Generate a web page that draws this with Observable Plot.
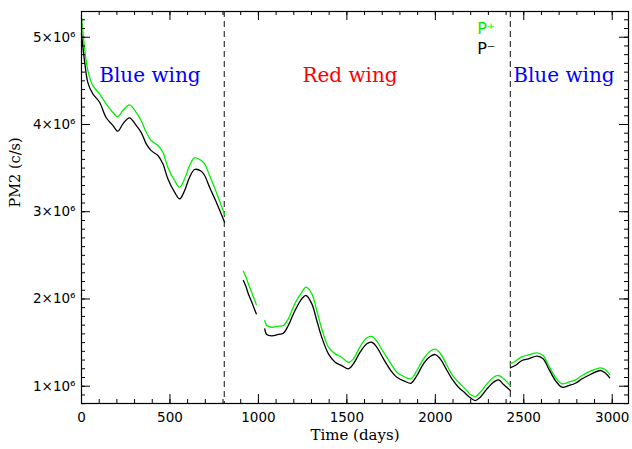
<!DOCTYPE html>
<html>
<head>
<meta charset="utf-8">
<script src="https://cdn.jsdelivr.net/npm/d3@7"></script>
<script src="https://cdn.jsdelivr.net/npm/@observablehq/plot@0.6"></script>
<style>
  html, body { margin: 0; padding: 0; background: #fff; }
</style>
</head>
<body>
<div id="chart"></div>
<script>
// Time (days) and PM2 count rates (units of 10^6 c/s), four observing segments
const days1  = [0,17,36,64,102,139,177,205,234,271,309,337,366,394,432,460,488,526,555,583,611,639,677,696,724,762,809];
const minus1 = [5.04,4.73,4.48,4.35,4.255,4.08,3.99,3.923,4.007,4.076,3.99,3.91,3.778,3.70,3.644,3.549,3.377,3.224,3.148,3.243,3.395,3.484,3.464,3.415,3.281,3.109,2.88];
const plus1  = [5.23,4.885,4.618,4.446,4.35,4.237,4.14,4.09,4.16,4.225,4.14,4.045,3.911,3.816,3.759,3.682,3.51,3.358,3.281,3.377,3.53,3.618,3.587,3.549,3.415,3.224,2.968];

const days2  = [915,930,943,965,988];
const minus2 = [2.211,2.14,2.059,1.95,1.83];
const plus2  = [2.318,2.25,2.174,2.06,1.936];

const days3  = [1036,1047,1075,1113,1141,1169,1207,1245,1269,1302,1330,1358,1396,1434,1471,1509,1537,1575,1613,1641,1669,1707,1745,1783,1830,1862,1896,1933,1971,2000,2028,2066,2094,2131,2169,2198,2226,2254,2292,2329,2358,2386,2424];
const minus3 = [1.658,1.593,1.578,1.593,1.608,1.696,1.868,2.002,2.04,1.944,1.753,1.562,1.371,1.275,1.237,1.199,1.257,1.39,1.486,1.504,1.447,1.314,1.19,1.103,1.054,1.034,1.123,1.257,1.34,1.363,1.314,1.18,1.085,0.989,0.92,0.867,0.836,0.874,0.97,1.046,1.073,1.019,0.951];
const plus3  = [1.753,1.696,1.676,1.688,1.696,1.772,1.951,2.077,2.135,2.059,1.868,1.658,1.447,1.371,1.332,1.275,1.314,1.455,1.555,1.57,1.516,1.39,1.27,1.16,1.103,1.085,1.18,1.314,1.401,1.424,1.378,1.237,1.134,1.046,0.97,0.905,0.882,0.931,1.027,1.103,1.123,1.085,1.008];

const days4  = [2424,2452,2490,2527,2575,2609,2641,2679,2716,2754,2792,2830,2877,2933,2962,2986];
const minus4 = [1.211,1.237,1.295,1.314,1.344,1.314,1.199,1.065,0.989,1.008,1.034,1.085,1.134,1.18,1.149,1.096];
const plus4  = [1.257,1.287,1.34,1.36,1.383,1.352,1.237,1.103,1.027,1.046,1.073,1.123,1.172,1.211,1.188,1.134];

const boundaries = [807, 2424];
const xTicks = [0, 500, 1000, 1500, 2000, 2500, 3000];
const yTicks = [1, 2, 3, 4, 5];
const wingLabels = [
  {label: "Blue wing", day: 387, value: 4.56, color: "#0000ff"},
  {label: "Red wing",  day: 1518, value: 4.56, color: "#ff0000"},
  {label: "Blue wing", day: 2727, value: 4.56, color: "#0000ff"}
];
const legendItems = [
  {label: "P\u207A", day: 2339, value: 5.10, color: "#00ee00"},
  {label: "P\u207B", day: 2339, value: 4.87, color: "#000000"}
];

const segs = [[days1, minus1, plus1], [days2, minus2, plus2], [days3, minus3, plus3], [days4, minus4, plus4]];
const rowsMinus = [], rowsPlus = [];
segs.forEach(([d, m, p], s) => {
  d.forEach((t, i) => {
    rowsMinus.push({t, v: m[i], s});
    rowsPlus.push({t, v: p[i], s});
  });
});

const W = 632, H = 449, ML = 81, MR = 4, MT = 11, MB = 46;
const innerW = W - ML - MR, innerH = H - MT - MB;
const xMinor = d3.range(0, 3100, 100);
const yMinor = d3.range(8, 53).map(d => d / 10);

const chart = Plot.plot({
  width: W, height: H,
  marginLeft: ML, marginRight: MR, marginTop: MT, marginBottom: MB,
  style: {fontFamily: "DejaVu Sans", fontSize: "13px", background: "#fff", color: "#000"},
  x: {domain: [0, 3092]},
  y: {domain: [0.802, 5.295]},
  marks: [
    Plot.ruleX(boundaries, {x: d => d, stroke: "#222", strokeDasharray: "6,4", strokeWidth: 1.1}),
    Plot.line(rowsPlus, {x: "t", y: "v", z: "s", stroke: "#00ee00", strokeWidth: 1.3, curve: "catmull-rom"}),
    Plot.line(rowsMinus, {x: "t", y: "v", z: "s", stroke: "#000", strokeWidth: 1.3, curve: "catmull-rom"}),
    // inward ticks, all four sides
    Plot.tickX(xTicks, {x: d => d, insetTop: innerH - 9, stroke: "#000"}),
    Plot.tickX(xMinor, {x: d => d, insetTop: innerH - 4, stroke: "#000"}),
    Plot.tickX(xTicks, {x: d => d, insetBottom: innerH - 9, stroke: "#000"}),
    Plot.tickX(xMinor, {x: d => d, insetBottom: innerH - 4, stroke: "#000"}),
    Plot.tickY(yTicks, {y: d => d, insetRight: innerW - 9, stroke: "#000"}),
    Plot.tickY(yMinor, {y: d => d, insetRight: innerW - 4, stroke: "#000"}),
    Plot.tickY(yTicks, {y: d => d, insetLeft: innerW - 9, stroke: "#000"}),
    Plot.tickY(yMinor, {y: d => d, insetLeft: innerW - 4, stroke: "#000"}),
    Plot.axisX({ticks: xTicks, tickSize: 0, tickPadding: 9, fontSize: 13.5, tickFormat: d => String(d)}),
    Plot.axisY({ticks: yTicks, tickSize: 0, tickPadding: 6, fontSize: 13.5, tickFormat: d => `${d}\u00D710\u2076`}),
    Plot.frame({stroke: "#000", strokeWidth: 1.2}),
    Plot.text(wingLabels, {x: "day", y: "value", text: "label", fill: "color", fontFamily: "DejaVu Serif", fontSize: 20}),
    Plot.text(legendItems, {x: "day", y: "value", text: "label", fill: "color", textAnchor: "end", fontFamily: "DejaVu Sans", fontSize: 16}),
    Plot.text(["Time (days)"], {text: d => d, frameAnchor: "bottom", dy: 36, fontFamily: "DejaVu Serif", fontSize: 15}),
    Plot.text(["PM2 (c/s)"], {text: d => d, frameAnchor: "left", dx: -66, rotate: -90, fontFamily: "DejaVu Serif", fontSize: 14.5})
  ]
});
document.getElementById("chart").appendChild(chart);
</script>
</body>
</html>
